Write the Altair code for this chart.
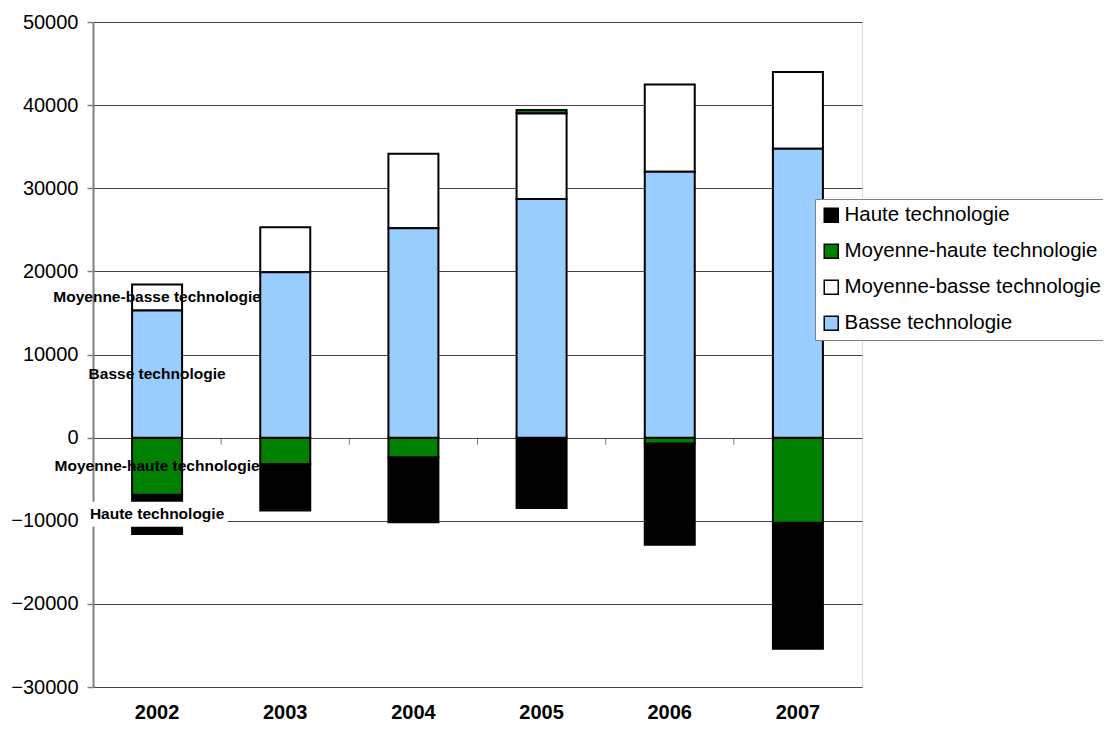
import altair as alt
import pandas as pd

years = ["2002", "2003", "2004", "2005", "2006", "2007"]
basse = [15300, 19900, 25200, 28700, 32000, 34750]
moy_basse = [3130, 5400, 8950, 10300, 10470, 9220]
moy_haute = [-6860, -3170, -2370, 420, -720, -10230]
haute = [-4730, -5610, -7820, -8460, -12160, -15160]

series = ["Haute technologie", "Moyenne-haute technologie",
          "Moyenne-basse technologie", "Basse technologie"]
colors = ["#000000", "#008000", "#FFFFFF", "#99CCFF"]
stack_rank = {"Basse technologie": 0, "Moyenne-basse technologie": 1,
              "Moyenne-haute technologie": 2, "Haute technologie": 3}
y_ticks = [-30000, -20000, -10000, 0, 10000, 20000, 30000, 40000, 50000]
label_year = "2002"

values = {
    "Haute technologie": haute,
    "Moyenne-haute technologie": moy_haute,
    "Moyenne-basse technologie": moy_basse,
    "Basse technologie": basse,
}
rows = []
for s in series:
    for y, v in zip(years, values[s]):
        rows.append({"year": y, "series": s, "value": v, "rank": stack_rank[s]})
df = pd.DataFrame(rows)

FONT = "Liberation Sans"
W, H = 769, 665
step = W / len(years)

x_enc = alt.X("year:N", sort=years,
              scale=alt.Scale(paddingInner=0, paddingOuter=0),
              axis=alt.Axis(title=None, orient="bottom", domain=False, ticks=False,
                            labelFont=FONT, labelFontSize=20, labelFontWeight="bold",
                            labelColor="black", labelPadding=15, labelAngle=0, grid=False))
y_scale = alt.Scale(domain=[-30000, 50000], nice=False, zero=False)

bars = alt.Chart(df).mark_bar(size=50, stroke="black", strokeWidth=2).encode(
    x=x_enc,
    y=alt.Y("value:Q", stack="zero", scale=y_scale,
            axis=alt.Axis(title=None, values=y_ticks, format="d", labelFont=FONT,
                          labelFontSize=20, labelColor="black", domainColor="#808080",
                          domainWidth=2, tickColor="#808080", tickSize=6, tickWidth=1.5,
                          labelPadding=9, grid=True, gridColor="#444444", gridWidth=1)),
    color=alt.Color("series:N", scale=alt.Scale(domain=series, range=colors),
                    legend=alt.Legend(title=None, orient="none", legendX=722, legendY=177,
                                      symbolType="square", symbolSize=196,
                                      symbolStrokeColor="black", symbolStrokeWidth=1.5,
                                      labelFont=FONT, labelFontSize=20.5, labelColor="black",
                                      labelOffset=3, labelLimit=0, rowPadding=15,
                                      padding=6, strokeColor="#808080", fillColor="white")),
    order=alt.Order("rank:Q"),
)

lab_base = alt.Chart(df).transform_filter(
    alt.datum.year == label_year
).transform_stack(
    stack="value", groupby=["year"], sort=[alt.SortField("rank")], as_=["v0", "v1"]
).transform_calculate(mid="(datum.v0 + datum.v1) / 2")

box_shape = "M-1,-0.177L1,-0.177L1,0.177L-1,0.177Z"
label_box = lab_base.transform_filter(
    alt.datum.series == "Haute technologie"
).mark_point(shape=box_shape, filled=True, color="white", opacity=1, size=141 * 141,
             strokeWidth=0).encode(
    x=alt.X("year:N", sort=years),
    y=alt.Y("mid:Q", scale=y_scale),
)

labels = lab_base.mark_text(font=FONT, fontSize=15.5, fontWeight="bold", color="black",
                            align="center", baseline="middle").encode(
    x=alt.X("year:N", sort=years),
    y=alt.Y("mid:Q", scale=y_scale),
    text="series:N",
)

ticks = alt.Chart(df).transform_filter(
    (alt.datum.series == series[0]) & (alt.datum.year != years[0])
).mark_tick(orient="vertical", size=7, thickness=1, color="#444444",
            xOffset=-step / 2, yOffset=3.5).encode(
    x=alt.X("year:N", sort=years),
    y=alt.datum(0),
)

chart = alt.layer(bars, ticks, label_box, labels).properties(
    width=W, height=H,
    autosize=alt.AutoSizeParams(type="none"),
    padding={"left": 85, "top": 14, "right": 241, "bottom": 35},
).configure_view(stroke="#808080", strokeWidth=1.5).configure(background="white")

chart.save("out.html", embed_options={"renderer": "svg", "actions": False})
